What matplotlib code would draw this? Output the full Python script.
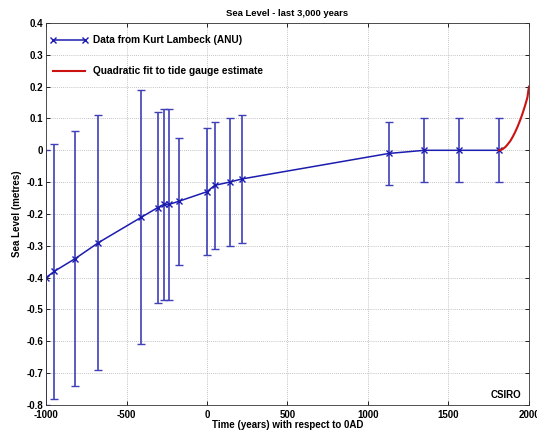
import numpy as np
import matplotlib.pyplot as plt

###########################################################
# data

# Lambeck (ANU) reconstruction: year, sea level (m), error (m)
years_lambeck = [-1000, -948, -818, -674, -407, -306, -269, -236, -174,
                 0, 48, 140, 217, 1128, 1351, 1566, 1814]
level_lambeck = [-0.40, -0.38, -0.34, -0.29, -0.21, -0.18, -0.17, -0.17, -0.16,
                 -0.13, -0.11, -0.10, -0.09, -0.01, 0.0, 0.0, 0.0]
err_lambeck = [0.40, 0.40, 0.40, 0.40, 0.40, 0.30, 0.30, 0.30, 0.20,
               0.20, 0.20, 0.20, 0.20, 0.10, 0.10, 0.10, 0.10]

# quadratic fit to tide gauge estimate
years_fit = [1814, 1825, 1840, 1855, 1870, 1885, 1900, 1915, 1930,
             1945, 1960, 1975, 1990, 2000]
level_fit = [0.0, 0.001, 0.005, 0.011, 0.020, 0.030, 0.043, 0.058, 0.075,
             0.094, 0.115, 0.139, 0.165, 0.20]

xticks = [-1000, -500, 0, 500, 1000, 1500, 2000]
yticks = [0.4, 0.3, 0.2, 0.1, 0, -0.1, -0.2, -0.3, -0.4, -0.5, -0.6, -0.7, -0.8]
ytick_labels = ['0.4', '0.3', '0.2', '0.1', '0', '-0.1', '-0.2', '-0.3',
                '-0.4', '-0.5', '-0.6', '-0.7', '-0.8']

###########################################################
# plot

plt.rcParams['font.family'] = ['Liberation Sans', 'DejaVu Sans']
plt.rcParams['font.weight'] = 'bold'
plt.rcParams['axes.unicode_minus'] = False
fs = 7

fig = plt.figure(figsize=(5.37, 4.33), dpi=100)
ax = fig.add_axes([0.0857, 0.0647, 0.8993, 0.8823])

blue_line = '#1c1cb0'
blue_bar = '#4040b8'
red = '#cc1111'

ax.errorbar(years_lambeck, level_lambeck, yerr=err_lambeck, fmt='none',
            ecolor=blue_bar, elinewidth=1.2, capsize=3, capthick=1.0)
ax.plot(years_lambeck, level_lambeck, color=blue_line, lw=1.1, marker='x',
        ms=4, mew=1.0, label='Data from Kurt Lambeck (ANU)')
ax.plot(years_fit, level_fit, color=red, lw=1.5,
        label='Quadratic fit to tide gauge estimate')

ax.set_xlim(-1000, 2000)
ax.set_ylim(-0.8, 0.4)
ax.set_xticks(xticks)
ax.set_yticks(yticks)
ax.set_yticklabels(ytick_labels)
ax.tick_params(direction='in', top=True, right=True, length=3, width=0.6,
               labelsize=fs)
ax.tick_params(axis='x', pad=3.5)
ax.tick_params(axis='y', pad=2)
for lab in ax.get_xticklabels() + ax.get_yticklabels():
    lab.set_fontweight('bold')
for sp in ax.spines.values():
    sp.set_linewidth(0.6)
    sp.set_color('#333333')

ax.grid(True, ls=(0, (1, 1.5)), color='#b0b0b0', lw=0.6)

ax.set_title('Sea Level - last 3,000 years', fontsize=6.8, fontweight='bold', pad=5)
ax.set_xlabel('Time (years) with respect to 0AD', fontsize=fs, fontweight='bold', labelpad=0)
ax.set_ylabel('Sea Level (metres)', fontsize=fs, fontweight='bold', labelpad=3)

ax.text(0.985, 0.026, 'CSIRO', transform=ax.transAxes, ha='right', va='center',
        fontsize=fs, fontweight='bold')

leg = ax.legend(loc='upper left', bbox_to_anchor=(0.008, 0.968), frameon=False,
                fontsize=7.3, numpoints=2, handlelength=3.8, handletextpad=0.5,
                labelspacing=2.1, borderaxespad=0, borderpad=0)
for t in leg.get_texts():
    t.set_fontweight('bold')

fig.savefig('out.png', dpi=100)
